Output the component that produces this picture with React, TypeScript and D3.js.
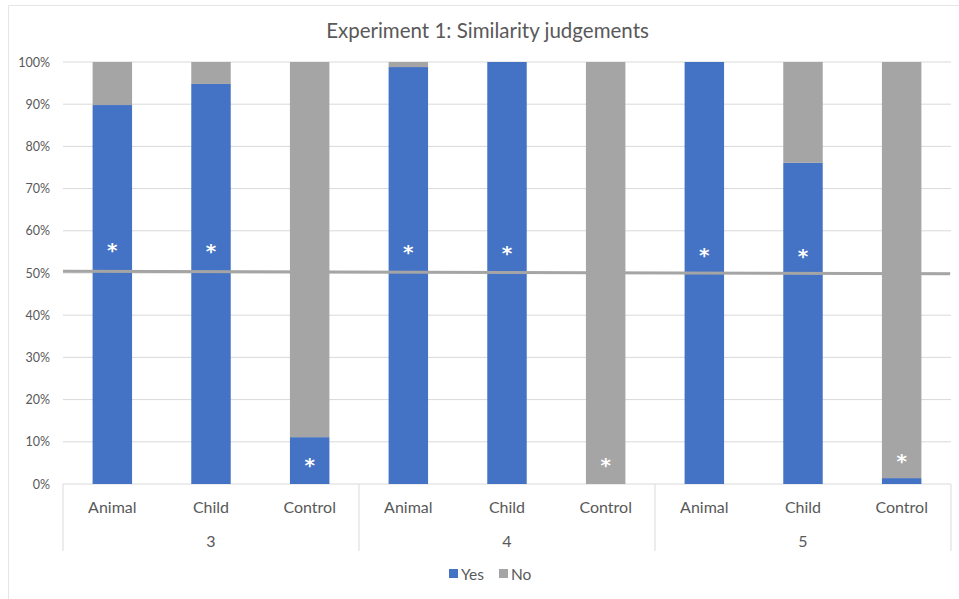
import React from 'react';
import * as d3 from 'd3';

// chart data
const groups = ['3', '4', '5'];
const conditions = ['Animal', 'Child', 'Control'];
const yesValues = [89.8, 94.8, 11.1, 98.8, 100, 0, 100, 76.1, 1.4];
const noValues = [10.2, 5.2, 88.9, 1.2, 0, 100, 0, 23.9, 98.6];
const starValues = [55.9, 55.7, 5.0, 55.5, 55.2, 5.0, 54.7, 54.5, 5.9]; // where the * marks sit
const chanceLine = [50.4, 49.8]; // hand drawn 50% line, start and end
const yTicks = [0, 10, 20, 30, 40, 50, 60, 70, 80, 90, 100];

const W = 959;
const H = 599;
const blue = '#4472C4';
const grey = '#A5A5A5';
const textCol = '#595959';
const gridCol = '#D9D9D9';
const font = 'Lato, "Open Sans", sans-serif';

export default function App() {
	const left = 63;
	const right = 951;
	const top = 62;
	const bottom = 484;

	// one slot per group/condition pair
	const keys = groups.flatMap((g) => conditions.map((c) => `${g}-${c}`));
	const x = d3.scaleBand().domain(keys).range([left, right]).paddingInner(0.6).paddingOuter(0.3);
	const y = d3.scaleLinear().domain([0, 100]).range([bottom, top]);
	const step = x.step();

	const rows = keys.map((k, i) => ({ key: k, yes: yesValues[i], no: noValues[i], star: starValues[i], cond: conditions[i % 3] }));
	const stack = d3.stack<any>().keys(['yes', 'no'])(rows);
	const colors: Record<string, string> = { yes: blue, no: grey };

	const groupEdges = groups.map((_, gi) => left + gi * 3 * step).concat([right]);

	return (
		<svg width={W} height={H} style={{ position: 'absolute', left: 0, top: 0, fontFamily: font }}>
			<rect x={0} y={0} width={W} height={H} fill="#fff" />
			<rect x={8.5} y={5.5} width={W + 10} height={H + 10} fill="none" stroke="#E6E6E6" />

			<text x={487.5} y={30} textAnchor="middle" dominantBaseline="central" fontSize={20.5} fill={textCol}>
				Experiment 1: Similarity judgements
			</text>

			{/* gridlines and y labels */}
			{yTicks.map((t) => (
				<g key={t}>
					<line x1={left} x2={right} y1={y(t)} y2={y(t)} stroke={gridCol} strokeWidth={1} />
					<text x={50} y={y(t)} textAnchor="end" dominantBaseline="central" fontSize={12.5} fill={textCol}>
						{t}%
					</text>
				</g>
			))}

			{/* stacked bars */}
			{stack.map((s) => (
				<g key={s.key}>
					{s.map((d: any) =>
						d[1] - d[0] > 0 ? (
							<rect
								key={d.data.key}
								x={x(d.data.key)}
								width={x.bandwidth()}
								y={y(d[1])}
								height={y(d[0]) - y(d[1])}
								fill={colors[s.key]}
							/>
						) : null
					)}
				</g>
			))}

			{/* 50% line */}
			<line x1={left} x2={right - 1} y1={y(chanceLine[0])} y2={y(chanceLine[1])} stroke={grey} strokeWidth={3} />

			{/* asterisks */}
			{rows.map((r) => (
				<text
					key={r.key}
					x={(x(r.key) as number) + x.bandwidth() / 2}
					y={y(r.star) + 9}
					textAnchor="middle"
					fontSize={20}
					fontWeight="bold"
					fontFamily='"DejaVu Sans", sans-serif'
					fill="#fff"
				>
					*
				</text>
			))}

			{/* category axis */}
			{groupEdges.map((gx, i) => (
				<line key={i} x1={gx} x2={gx} y1={bottom} y2={551} stroke={gridCol} strokeWidth={1} />
			))}
			{rows.map((r) => (
				<text
					key={r.key}
					x={(x(r.key) as number) + x.bandwidth() / 2}
					y={506}
					textAnchor="middle"
					dominantBaseline="central"
					fontSize={16}
					fill={textCol}
				>
					{r.cond}
				</text>
			))}
			{groups.map((g, gi) => (
				<text
					key={g}
					x={(groupEdges[gi] + groupEdges[gi + 1]) / 2}
					y={540}
					textAnchor="middle"
					dominantBaseline="central"
					fontSize={16}
					fill={textCol}
				>
					{g}
				</text>
			))}

			{/* legend */}
			<rect x={449} y={569} width={9} height={9} fill={blue} />
			<text x={461} y={574} dominantBaseline="central" fontSize={15.5} fill={textCol}>
				Yes
			</text>
			<rect x={499} y={569} width={9} height={9} fill={grey} />
			<text x={511} y={574} dominantBaseline="central" fontSize={15.5} fill={textCol}>
				No
			</text>
		</svg>
	);
}
